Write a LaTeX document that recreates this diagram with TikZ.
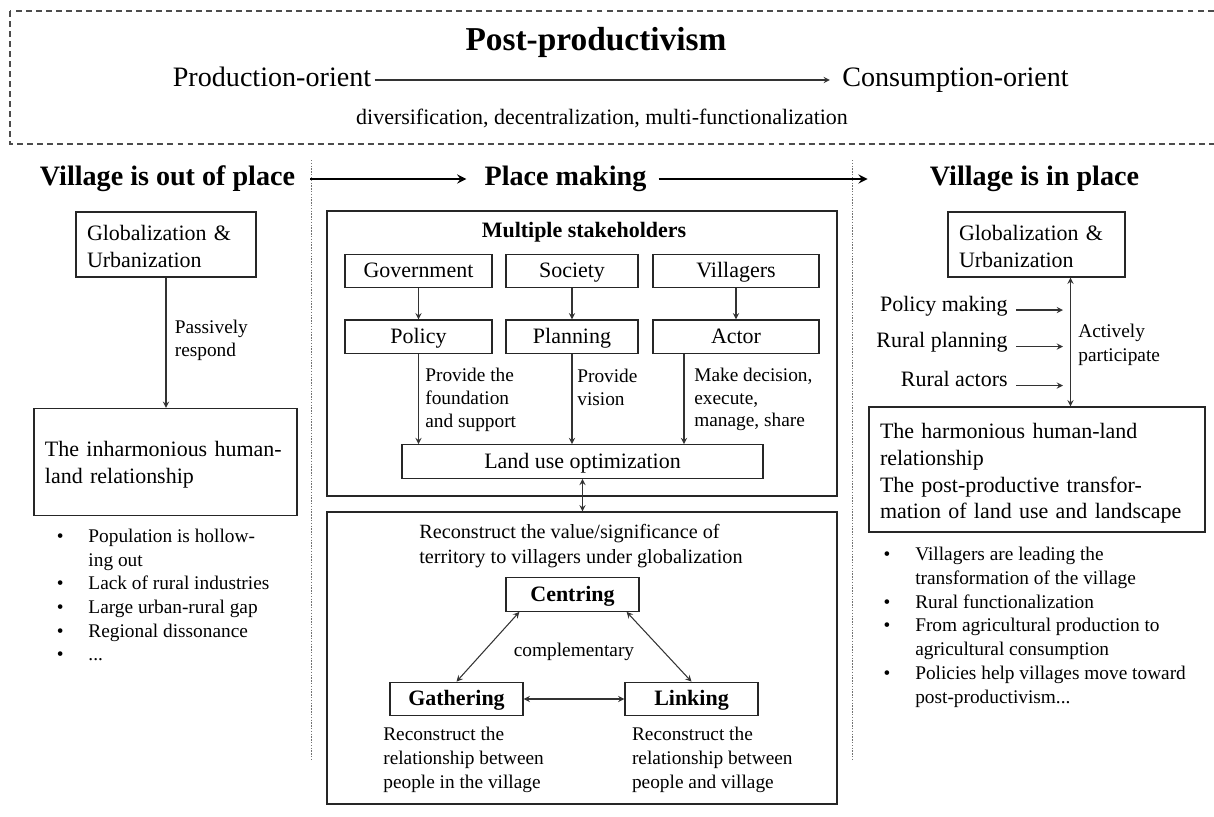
\documentclass[tikz,border=0pt]{standalone}
\usepackage{fontspec}
\setmainfont{Liberation Serif}
\usetikzlibrary{positioning,arrows,calc}

\newcommand{\bitem}{\makebox[18pt][l]{\textbullet}}
\newcommand{\bcont}{\hspace*{18pt}}

\begin{document}
\begin{tikzpicture}[
    x=0.2mm, y=-0.2mm,
    every node/.style={inner sep=0pt},
    hd/.style={font=\fontsize{16}{19}\selectfont\bfseries, text height=11.5pt, text depth=3.6pt},
    ori/.style={font=\fontsize{16}{19}\selectfont, text height=11.5pt, text depth=3.6pt},
    box/.style={draw=black!85, line width=0.7pt, align=left, inner xsep=2.2mm, font=\fontsize{12.5}{15.3}\selectfont},
    sbox/.style={draw=black!85, line width=0.7pt, align=center, minimum height=6.7mm, text height=9.6pt, text depth=2pt, font=\fontsize{12.5}{15}\selectfont},
    kbox/.style={sbox, font=\fontsize{12.5}{15}\selectfont\bfseries, minimum width=26.6mm},
    frame/.style={draw=black!85, line width=0.7pt, minimum width=102mm},
    src/.style={font=\fontsize{12.5}{15}\selectfont, anchor=east, text height=8.8pt, text depth=2.8pt},
    lbl/.style={align=left, font=\fontsize{11}{13}\selectfont},
    lst/.style={align=left, font=\fontsize{11}{13.5}\selectfont},
    arr/.style={-stealth, line width=0.6pt, black!80},
    darr/.style={stealth-stealth, line width=0.6pt, black!80},
    bigarr/.style={-stealth, line width=1.3pt},
    sep/.style={black!55, line width=0.6pt, dash pattern=on 0.8pt off 0.8pt}
]
\useasboundingbox (0,0) rectangle (1214,816);

% top band
\draw[black!70, line width=0.6pt, dash pattern=on 3.4pt off 2.3pt] (10,11) rectangle (1225,144);
\node[font=\fontsize{19}{22}\selectfont\bfseries] (post) at (596,42) {Post-productivism};
\node[ori] (prod) at (272,80) {Production-orient};
\node[ori] (cons) at (955.5,80) {Consumption-orient};
\draw[arr, shorten <=0.6mm, shorten >=2.4mm] (prod) -- (cons);
\node[font=\fontsize{12.5}{15}\selectfont] (div) at (602,118) {diversification, decentralization, multi-functionalization};

% headings
\node[hd] (vout) at (167.5,179) {Village is out of place};
\node[hd] (place) at (565.5,179) {Place making};
\node[hd] (vin) at (1034.5,179) {Village is in place};
\draw[bigarr, shorten <=3mm, shorten >=3.6mm] (vout) -- (place);
\draw[bigarr, shorten <=2.4mm, shorten >=12.4mm] (place) -- (vin);
\draw[sep] (311.7,160) -- (311.7,761);
\draw[sep] (852.7,160) -- (852.7,761);

% out of place
\node[box, text width=31.6mm, minimum height=13mm] (glob1) at (166,244.5) {\rule{0pt}{11pt}Globalization \&\\Urbanization};
\node[box, text width=48.2mm, minimum height=21.4mm] (inharm) at (165.5,462) {\rule{0pt}{12pt}The inharmonious human-\\land relationship};
\draw[arr] (glob1.south) -- (glob1.south |- inharm.north);
\node[lbl, anchor=west] (pas) at (174.5,340) {Passively\\respond};
\node[lst, anchor=north west] (lprob) at (56.5,528.5) {\bitem Population is hollow-\\ \bcont ing out\\ \bitem Lack of rural industries\\ \bitem Large urban-rural gap\\ \bitem Regional dissonance\\ \bitem ...};

% place making
\node[frame, minimum height=57mm] (stake) at (582,353.5) {};
\node[font=\fontsize{12.5}{15}\selectfont\bfseries] (mult) at (584,232.7) {Multiple stakeholders};
\node[sbox, minimum width=29.4mm] (gov) at (418.5,271) {Government};
\node[sbox, minimum width=26.4mm] (soc) at (572,271) {Society};
\node[sbox, minimum width=33.2mm] (vil) at (736,271) {Villagers};
\node[sbox, minimum width=29.4mm, below=6.2mm of gov] (pol) {Policy};
\node[sbox, minimum width=26.4mm, below=6.2mm of soc] (plan) {Planning};
\node[sbox, minimum width=33.2mm, below=6.2mm of vil] (act) {Actor};
\node[sbox, minimum width=72.2mm] (land) at (582.5,461.5) {Land use optimization};
\foreach \a/\b in {gov/pol, soc/plan, vil/act}
    \draw[arr] (\a) -- (\b);
\draw[arr] (pol.south) -- (pol.south |- land.north);
\draw[arr] (plan.south) -- (plan.south |- land.north);
\draw[arr] ([xshift=-10.4mm]act.south) -- ([xshift=-10.4mm]act.south |- land.north);
\node[lbl, anchor=west] (fnd) at (425,399.5) {Provide the\\foundation\\and support};
\node[lbl, anchor=west] (vis) at (577,387.5) {Provide\\vision};
\node[lbl, anchor=west] (dec) at (694,399.5) {Make decision,\\execute,\\manage, share};

\node[frame, minimum height=58.4mm] (recon) at (582,658) {};
\draw[darr] (land.south) -- (land.south |- recon.north);
\node[lbl, font=\fontsize{11.5}{14.2}\selectfont, anchor=west] (val) at (419,546.5) {Reconstruct the value/significance of\\territory to villagers under globalization};
\node[kbox] (cen) at (572.5,594.5) {Centring};
\node[kbox] (gat) at (456.5,699) {Gathering};
\node[kbox] (lnk) at (691.5,699) {Linking};
\node[lbl] (comp) at (574,652) {complementary};
\draw[darr] ([xshift=2.8mm]cen.south west) -- (gat.north);
\draw[darr] ([xshift=-2.6mm]cen.south east) -- (lnk.north);
\draw[darr] (gat) -- (lnk);
\node[lbl, font=\fontsize{11}{13.6}\selectfont, anchor=west] (gatl) at (383,760) {Reconstruct the\\relationship between\\people in the village};
\node[lbl, font=\fontsize{11}{13.6}\selectfont, anchor=west] (lnkl) at (631.7,760) {Reconstruct the\\relationship between\\people and village};

% in place
\node[box, text width=31mm, minimum height=13mm] (glob2) at (1036.5,244.5) {\rule{0pt}{11pt}Globalization \&\\Urbanization};
\node[box, text width=62.8mm, minimum height=25mm] (harm) at (1037,469.5) {\rule{0pt}{13pt}The harmonious human-land\\relationship\\The post-productive transfor-\\mation of land use and landscape};
\coordinate (vtop) at ([xshift=6.8mm]glob2.south);
\draw[darr] (vtop) -- (vtop |- harm.north);
\node[src] (pm) at (1008,306) {Policy making};
\node[src] (rp) at (1008,342.5) {Rural planning};
\node[src] (ra) at (1008,381.5) {Rural actors};
\foreach \n in {pm, rp, ra}
    \draw[arr, shorten <=1.6mm, shorten >=1.5mm] ([yshift=-0.8mm]\n.east) -- ([yshift=-0.8mm]\n.east -| vtop);
\node[lbl, font=\fontsize{11}{13.6}\selectfont, anchor=west] (actp) at (1078,345) {Actively\\participate};
\node[lst, anchor=north west] (rres) at (883.3,547) {\bitem Villagers are leading the\\ \bcont transformation of the village\\ \bitem Rural functionalization\\ \bitem From agricultural production to\\ \bcont agricultural consumption\\ \bitem Policies help villages move toward\\ \bcont post-productivism...};
\end{tikzpicture}
\end{document}
